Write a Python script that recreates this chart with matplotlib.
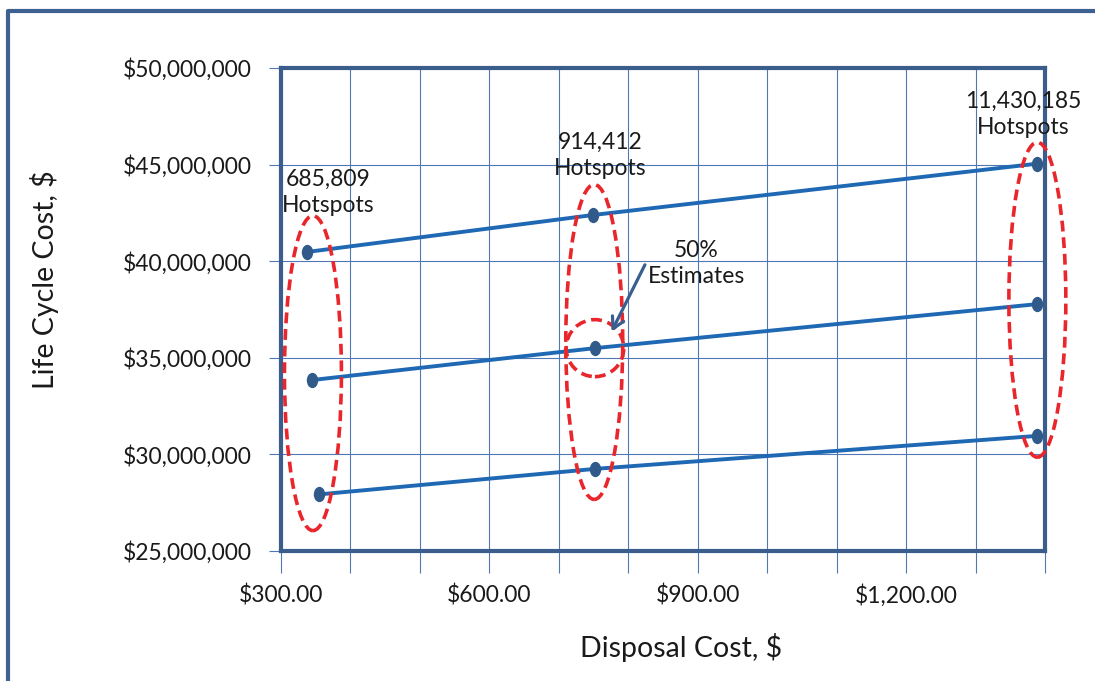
import matplotlib
matplotlib.use("Agg")
import matplotlib.pyplot as plt
import numpy as np
from matplotlib.patches import Ellipse
from matplotlib.lines import Line2D
from matplotlib.path import Path
from matplotlib.ticker import MultipleLocator, FuncFormatter
from matplotlib.transforms import offset_copy, Affine2D

plt.rcParams['font.family'] = ['Lato', 'DejaVu Sans']

# Disposal cost ($) for each hotspot scenario, and life cycle cost ($) per estimate level
hotspot_labels = ["685,809", "914,412", "11,430,185"]
disposal_high = [338, 749, 1389]
disposal_mid = [345, 752, 1389]
disposal_low = [355, 752, 1389]
lcc_high = [40.48e6, 42.39e6, 45.05e6]
lcc_mid = [33.85e6, 35.50e6, 37.78e6]
lcc_low = [27.93e6, 29.25e6, 30.96e6]

LINE = '#1f68b3'
MARK = '#2f5a8a'
GRID = '#4f78b5'
SPINE = '#3b5d8c'
RED = '#e8262b'
TXT = '#1a1a1a'

fig = plt.figure(figsize=(10.95, 6.81), dpi=100)
ax = fig.add_axes([281 / 1095, 1 - 551 / 681, 764 / 1095, 483 / 681])

# slightly tall oval marker
oval = Path.unit_circle().transformed(Affine2D().scale(0.72, 1.0))

for xs, ys in [(disposal_high, lcc_high), (disposal_mid, lcc_mid), (disposal_low, lcc_low)]:
    ax.plot(xs, ys, color=LINE, lw=2.8, marker=oval, markersize=10,
            markerfacecolor=MARK, markeredgecolor=MARK, zorder=4, solid_capstyle='butt')

ax.set_xlim(300, 1400)
ax.set_ylim(25e6, 50e6)
ax.xaxis.set_major_locator(MultipleLocator(100))
ax.yaxis.set_major_locator(MultipleLocator(5e6))
ax.xaxis.set_major_formatter(FuncFormatter(
    lambda v, p: f"${v:,.2f}" if abs(v % 300) < 1e-6 else ""))
ax.yaxis.set_major_formatter(FuncFormatter(lambda v, p: f"${v:,.0f}"))
ax.grid(True, color=GRID, lw=0.8, zorder=1)
ax.set_axisbelow(True)
ax.tick_params(axis='x', length=16, width=0.8, color=GRID, pad=8,
               labelsize=16.5, labelcolor=TXT)
ax.tick_params(axis='y', length=9, width=0.8, color=GRID, pad=12,
               labelsize=16.5, labelcolor=TXT)
for s in ax.spines.values():
    s.set_color(SPINE)
    s.set_linewidth(3.0)
    s.set_zorder(5)

ax.set_xlabel("Disposal Cost, $", fontsize=20.5, color=TXT)
ax.xaxis.set_label_coords((681 - 281) / 764, (551 - 648) / 483)
ax.xaxis.label.set_va('center')
ax.set_ylabel("Life Cycle Cost, $", fontsize=20.5, color=TXT)
ax.yaxis.set_label_coords((45 - 281) / 764, (551 - 280) / 483)
ax.yaxis.label.set_va('center')

# dashed ellipses grouping each hotspot scenario
ell_w = 82
ell_h = 16.3e6
dash = (0, (3.0, 1.6))
groups = list(zip(disposal_high, disposal_mid, disposal_low, lcc_high, lcc_mid, lcc_low))
label_dx = [11, 4, -10]
label_dy = [0, 4, 3]
for i, (xh, xm, xl, yh, ym, yl) in enumerate(groups):
    cx = np.mean([xh, xm, xl])
    cy = (max(yh, ym, yl) + min(yh, ym, yl)) / 2
    top = cy + ell_h / 2
    e = Ellipse((cx, cy), ell_w, ell_h, fill=False, ec=RED,
                lw=2.6, ls=dash, zorder=6, clip_on=False)
    ax.add_patch(e)
    ax.annotate(f"{hotspot_labels[i]}\nHotspots", xy=(cx, top),
                xytext=(label_dx[i], label_dy[i]), textcoords='offset points',
                ha='center', va='bottom', fontsize=16.5, color=TXT,
                linespacing=1.3, zorder=7, annotation_clip=False)

# circle around the 50% estimate of the middle scenario
px, py = disposal_mid[1], lcc_mid[1]
ax.add_patch(Ellipse((px, py), 83, 2.95e6, fill=False, ec=RED, lw=2.6,
                     ls=dash, zorder=6))
ax.annotate("50%\nEstimates", xy=(px, py), xytext=(73, 61), textcoords='offset points',
            ha='center', va='center', fontsize=16.5, color=TXT, linespacing=1.3, zorder=7)
tip = offset_copy(ax.transData, fig=fig, x=12, y=12, units='points')
ax.annotate("", xy=(px, py), xycoords=tip, xytext=(24, 48), textcoords='offset points',
            arrowprops=dict(arrowstyle='->,head_length=0.8,head_width=0.45',
                            color='#3a5f8f', lw=2.3, shrinkA=0, shrinkB=0), zorder=7)

# outer frame (left and top edges)
fig.add_artist(Line2D([8 / 1095, 8 / 1095, 1.01], [-0.01, 1 - 11 / 681, 1 - 11 / 681],
                      transform=fig.transFigure, color='#3d6190', lw=3.0))

fig.savefig("out.png", dpi=100)
